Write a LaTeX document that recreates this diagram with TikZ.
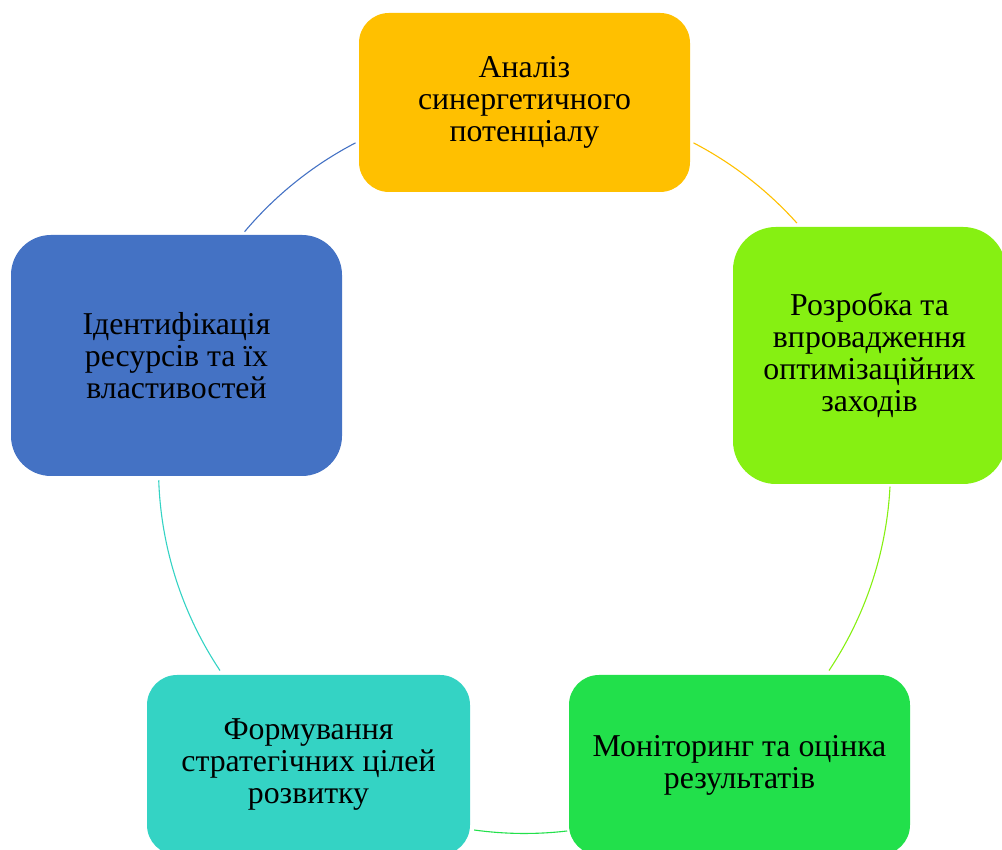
\documentclass[tikz,border=0pt]{standalone}
\usepackage{fontspec}
\setmainfont{Liberation Serif}
\definecolor{cblue}{HTML}{4472C4}
\definecolor{corange}{HTML}{FFC000}
\definecolor{clime}{HTML}{86F012}
\definecolor{cgreen}{HTML}{22E04B}
\definecolor{cteal}{HTML}{34D3C4}
\begin{document}
\begin{tikzpicture}[x=1pt,y=1pt,
  box/.style={draw=none, align=center, inner sep=0pt, text=black,
    font=\fontsize{31.8pt}{32pt}\selectfont},
  arcline/.style={line width=1.1pt}]
\clip (0,0) rectangle (1002,850);
\coordinate (c) at (524.5,382.5);
\node[box, fill=corange, minimum width=331pt, minimum height=179pt, rounded corners=30pt] (analiz) at (524.5,747.5) {Аналіз\\синергетичного\\потенціалу};
\node[box, fill=clime, minimum width=273pt, minimum height=257pt, rounded corners=43pt] (rozrobka) at (869.5,494.5) {Розробка та\\впровадження\\оптимізаційних\\заходів};
\node[box, fill=cgreen, minimum width=341pt, minimum height=180pt, rounded corners=30pt] (monitoring) at (739.5,85) {Моніторинг та оцінка\\результатів};
\node[box, fill=cteal, minimum width=323pt, minimum height=180pt, rounded corners=30pt] (formuvannia) at (308.5,85) {Формування\\стратегічних цілей\\розвитку};
\node[box, fill=cblue, minimum width=331pt, minimum height=241pt, rounded corners=40pt] (identyf) at (176.5,494.5) {Ідентифікація\\ресурсів та їх\\властивостей};
\draw[cblue, arcline] (c) ++(139.9:366) arc[start angle=139.9, end angle=117.5, radius=366pt];
\draw[corange, arcline] (c) ++(62.5:366) arc[start angle=62.5, end angle=41.9, radius=366pt];
\draw[clime, arcline] (c) ++(-3.0:366) arc[start angle=-3.0, end angle=-33.7, radius=366pt];
\draw[cgreen, arcline] (c) ++(-83.3:366) arc[start angle=-83.3, end angle=-97.9, radius=366pt];
\draw[cteal, arcline] (c) ++(213.7:366) arc[start angle=213.7, end angle=182.0, radius=366pt];
\end{tikzpicture}
\end{document}
